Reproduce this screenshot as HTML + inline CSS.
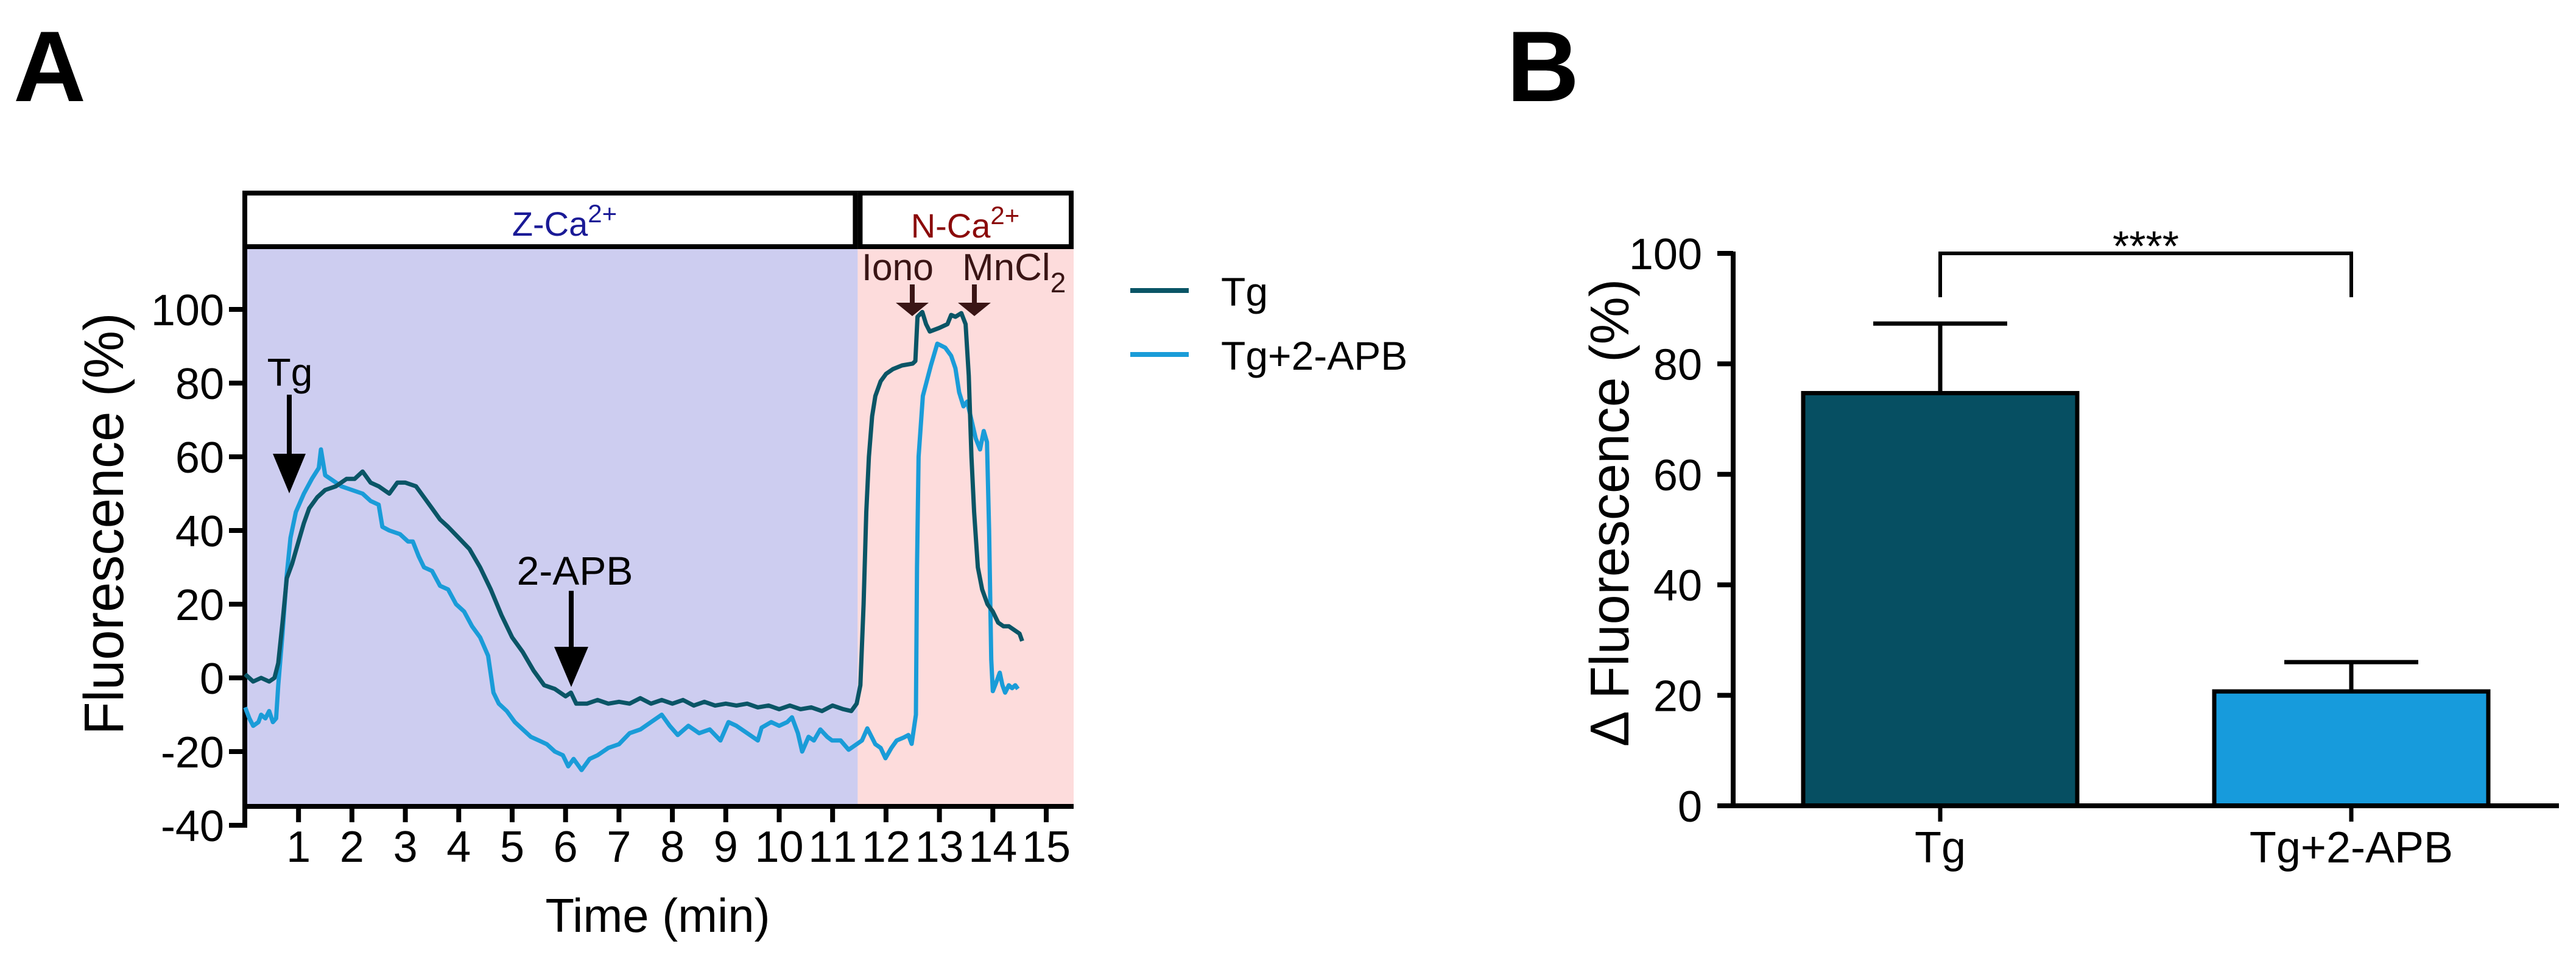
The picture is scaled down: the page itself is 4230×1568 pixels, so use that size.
<!DOCTYPE html>
<html><head><meta charset="utf-8"><style>
html,body{margin:0;padding:0;background:#fff;}
svg{display:block;font-family:"Liberation Sans",Arial,sans-serif;}
</style></head><body>
<svg id="fig" width="4230" height="1568" viewBox="0 0 4230 1568" xmlns="http://www.w3.org/2000/svg">
<rect x="0" y="0" width="4230" height="1568" fill="#fff"/>
<text x="22" y="166" font-size="165" font-weight="bold">A</text>
<text x="2474" y="166" font-size="165" font-weight="bold">B</text>
<g id="panelA"></g>
<g id="panelB"></g>
</svg>
<script>
// ---------- Panel A data ----------
const tgTimes = [0,0.15,0.3,0.45,0.55,0.62,0.7,0.78,0.88,1.0,1.1,1.2,1.35,1.5,1.7,1.9,2.05,2.2,2.35,2.5,2.7,2.85,3.0,3.2,3.35,3.5,3.65,3.8,4.0,4.2,4.4,4.6,4.8,5.0,5.2,5.4,5.6,5.8,6.0,6.1,6.2,6.4,6.6,6.8,7.0,7.2,7.4,7.6,7.8,8.0,8.2,8.4,8.6,8.8,9.0,9.2,9.4,9.6,9.8,10.0,10.2,10.4,10.6,10.8,11.0,11.2,11.35,11.45,11.52,11.58,11.63,11.68,11.74,11.8,11.9,12.0,12.13,12.3,12.5,12.55,12.59,12.68,12.75,12.82,13.0,13.15,13.22,13.3,13.41,13.49,13.55,13.6,13.65,13.72,13.8,13.9,14.0,14.1,14.2,14.3,14.4,14.5,14.55];
const tgValues = [1,-1,0,-1,0,4,15,27,31,37,42,46,49,51,52,54,54,56,53,52,50,53,53,52,49,46,43,41,38,35,30,24,17,11,7,2,-2,-3,-5,-4,-7,-7,-6,-7,-6.5,-7,-5.5,-7,-6,-7,-6,-7.5,-6.5,-7.5,-7,-7.5,-7,-8,-7.5,-8.5,-7.5,-8.5,-8,-9,-7.5,-8.5,-9,-7,-2,20,45,60,71,76.5,80.5,82.5,83.8,84.8,85.3,86,98,99.3,96,94,95,96,98.5,98,99,96,82,60,45,30,24,20,18,15,14,14,13,12,10];
const apbTimes = [0,0.08,0.15,0.25,0.3,0.38,0.45,0.52,0.58,0.62,0.7,0.78,0.85,0.95,1.1,1.25,1.38,1.42,1.5,1.6,1.8,2.0,2.2,2.35,2.5,2.57,2.7,2.9,3.05,3.14,3.25,3.35,3.5,3.65,3.8,3.95,4.1,4.25,4.4,4.55,4.65,4.75,4.9,5.05,5.2,5.35,5.5,5.65,5.8,5.95,6.05,6.15,6.3,6.45,6.6,6.8,7.0,7.2,7.4,7.6,7.8,7.95,8.1,8.3,8.5,8.7,8.9,9.05,9.2,9.4,9.6,9.67,9.85,10.0,10.15,10.24,10.35,10.43,10.55,10.65,10.77,10.9,10.99,11.15,11.3,11.45,11.55,11.65,11.8,11.9,11.99,12.1,12.2,12.33,12.42,12.48,12.56,12.58,12.61,12.69,12.84,12.96,13.11,13.22,13.3,13.37,13.45,13.52,13.6,13.68,13.76,13.83,13.89,13.93,13.97,14.0,14.07,14.13,14.18,14.23,14.3,14.36,14.42,14.47];
const apbValues = [-8,-11,-13,-12,-10,-11,-9,-12,-11,-2,12,28,38,45,50,54,57,62,55,54,52,51,50,48,47,41,40,39,37,37,33,30,29,25,24,20,18,14,11,6,-4,-7,-9,-12,-14,-16,-17,-18,-20,-21,-24,-22,-25,-22,-21,-19,-18,-15,-14,-12,-10,-13,-15.5,-13,-15,-14,-17,-12,-13,-15,-17,-13.5,-12,-13,-12,-10.7,-15,-20,-16,-17,-14,-16,-17,-17,-19.5,-18,-17,-13.7,-18,-19,-21.8,-19,-17,-16.2,-15.5,-17.9,-10,30,60,76.5,84.8,90.7,89.6,87.4,84,77.5,73.7,75,70,65,62,67,64,40,5,-3.6,-1,1.4,-2,-4,-2,-2.8,-2,-3];
const yTicksA = [100,80,60,40,20,0,-20,-40];
const xTicksA = [1,2,3,4,5,6,7,8,9,10,11,12,13,14,15];
const phaseBoundary = 11.47;

// ---------- Panel B data ----------
const groups = ["Tg","Tg+2-APB"];
const groupMeans = [74.7,20.7];
const groupErrors = [12.6,5.3];
const yTicksB = [0,20,40,60,80,100];
const sigLabel = "****";

const NS = "http://www.w3.org/2000/svg";
function mk(parent, tag, attrs, text){
  const e = document.createElementNS(NS, tag);
  for (const k in attrs) e.setAttribute(k, attrs[k]);
  if (text !== undefined) e.textContent = text;
  parent.appendChild(e);
  return e;
}

// ===== Panel A =====
const A = document.getElementById('panelA');
const xA = t => 402.5 + 87.7 * t;
const yA = v => 1113 - 6.05 * v;
const xRightA = 1763;
const plotTop = 409, plotBottom = 1320;

let r = mk(A,'rect',{x:402,y:plotTop,width:xA(phaseBoundary)-402,height:plotBottom-plotTop,fill:'#cdcdf0'});


r = mk(A,'rect',{x:xA(phaseBoundary),y:plotTop,width:xRightA-xA(phaseBoundary),height:plotBottom-plotTop,fill:'#fddcdc'});



r = mk(A,'rect',{x:402,y:317,width:xA(phaseBoundary)-4-402,height:88,fill:'#fff',stroke:'#000','stroke-width':8});


r = mk(A,'rect',{x:xA(phaseBoundary)+4,y:317,width:xRightA-4-xA(phaseBoundary)-4,height:88,fill:'#fff',stroke:'#000','stroke-width':8});


let t = mk(A,'text',{x:927,y:387,'font-size':56,'text-anchor':'middle',fill:'#1a1a96'});


t.innerHTML = 'Z-Ca<tspan dy="-22" font-size="42">2+</tspan>';
t = mk(A,'text',{x:1585,y:390,'font-size':56,'text-anchor':'middle',fill:'#8b0a0a'});


t.innerHTML = 'N-Ca<tspan dy="-22" font-size="42">2+</tspan>';

let ln = mk(A,'line',{x1:402,y1:313,x2:402,y2:1359,stroke:'#000','stroke-width':8});


ln = mk(A,'line',{x1:398,y1:1324,x2:xRightA,y2:1324,stroke:'#000','stroke-width':8});



yTicksA.forEach(v=>{
  const l = mk(A,'line',{x1:376,y1:yA(v),x2:402,y2:yA(v),stroke:'#000','stroke-width':8});
  
  
  const tx = mk(A,'text',{x:368,y:yA(v)+26,'font-size':72,'text-anchor':'end'}, String(v));
  
  
});
xTicksA.forEach(v=>{
  const l = mk(A,'line',{x1:xA(v),y1:1324,x2:xA(v),y2:1350,stroke:'#000','stroke-width':8});
  
  
  const tx = mk(A,'text',{x:xA(v),y:1415,'font-size':72,'text-anchor':'middle'}, String(v));
  if (v>=10) tx.setAttribute('textLength', 80);
  
  
});

t = mk(A,'text',{x:0,y:0,'font-size':92,'text-anchor':'middle',transform:'translate(202,860) rotate(-90)',textLength:693,lengthAdjust:'spacingAndGlyphs'},'Fluorescence (%)');


t = mk(A,'text',{x:1080,y:1530,'font-size':78,'text-anchor':'middle',textLength:369,lengthAdjust:'spacingAndGlyphs'},'Time (min)');



function path(times, vals){ return times.map((tt,i)=>(i?'L':'M')+xA(tt).toFixed(1)+','+yA(vals[i]).toFixed(1)).join(' '); }
let p = mk(A,'path',{d:path(apbTimes,apbValues),fill:'none',stroke:'#1a9cd8','stroke-width':7,'stroke-linejoin':'round'});


p = mk(A,'path',{d:path(tgTimes,tgValues),fill:'none',stroke:'#0a5566','stroke-width':7,'stroke-linejoin':'round'});



function arrow(x, y0, yHeadTop, yTip, halfW, color, name){
  const g = mk(A,'g',{});
  
  
  mk(g,'line',{x1:x,y1:y0,x2:x,y2:yHeadTop+2,stroke:color,'stroke-width':8});
  mk(g,'polygon',{points:`${x-halfW},${yHeadTop} ${x+halfW},${yHeadTop} ${x},${yTip}`,fill:color});
}
arrow(475,648,745,810,27,'#000','tg-arrow');
t = mk(A,'text',{x:476,y:633,'font-size':64,'text-anchor':'middle'},'Tg');


arrow(938,970,1062,1128,28,'#000','2apb-arrow');
t = mk(A,'text',{x:944,y:960,'font-size':66,'text-anchor':'middle'},'2-APB');


arrow(1498,467,497,519,27,'#3a1515','iono-arrow');
t = mk(A,'text',{x:1415,y:460,'font-size':62,fill:'#3a1515',textLength:118,lengthAdjust:'spacingAndGlyphs'},'Iono');


arrow(1600,467,497,519,27,'#3a1515','mncl2-arrow');
t = mk(A,'text',{x:1580,y:460,'font-size':62,fill:'#3a1515'});


t.innerHTML = 'MnCl<tspan dy="20" font-size="46">2</tspan>';

const legendItems = [['Tg','#0a5566',477,502],['Tg+2-APB','#1a9cd8',582,607]];
legendItems.forEach(it=>{
  const g = mk(A,'g',{});
  
  
  mk(g,'line',{x1:1856,y1:it[2],x2:1952,y2:it[2],stroke:it[1],'stroke-width':8});
  mk(g,'text',{x:2005,y:it[3],'font-size':66},it[0]);
});

// ===== Panel B =====
const B = document.getElementById('panelB');
const yB = v => 1323 - 9.07 * v;
const xCenters = [3186, 3861];
const barW = 450;

ln = mk(B,'line',{x1:2846,y1:yB(100)-3,x2:2846,y2:yB(0)+4,stroke:'#000','stroke-width':8});


yTicksB.forEach(v=>{
  const l = mk(B,'line',{x1:2820,y1:yB(v),x2:2846,y2:yB(v),stroke:'#000','stroke-width':8});
  
  
  const tx = mk(B,'text',{x:2795,y:yB(v)+26,'font-size':72,'text-anchor':'end'},String(v));
  
  
});
t = mk(B,'text',{x:0,y:0,'font-size':90,'text-anchor':'middle',transform:'translate(2674,842) rotate(-90)',textLength:768,lengthAdjust:'spacingAndGlyphs'},'Δ Fluorescence (%)');



const fills = ['#064f62','#179bdc'];
groups.forEach((g,i)=>{
  const cx = xCenters[i];
  const el = mk(B,'line',{x1:cx,y1:yB(groupMeans[i]),x2:cx,y2:yB(groupMeans[i]+groupErrors[i]),stroke:'#000','stroke-width':7});
  
  
  const cap = mk(B,'line',{x1:cx-110,y1:yB(groupMeans[i]+groupErrors[i]),x2:cx+110,y2:yB(groupMeans[i]+groupErrors[i]),stroke:'#000','stroke-width':7});
  
  
  const b = mk(B,'rect',{x:cx-barW/2,y:yB(groupMeans[i]),width:barW,height:yB(0)-yB(groupMeans[i]),fill:fills[i],stroke:'#000','stroke-width':7});
  
  
  const tk = mk(B,'line',{x1:cx,y1:yB(0),x2:cx,y2:yB(0)+26,stroke:'#000','stroke-width':7});
  
  
  const lb = mk(B,'text',{x:cx,y:1416,'font-size':72,'text-anchor':'middle'},g);
  
  
});
ln = mk(B,'line',{x1:2820,y1:yB(0),x2:4202,y2:yB(0),stroke:'#000','stroke-width':8});



p = mk(B,'path',{d:`M${xCenters[0]},488 L${xCenters[0]},${yB(100)} L${xCenters[1]},${yB(100)} L${xCenters[1]},488`,fill:'none',stroke:'#000','stroke-width':6});


t = mk(B,'text',{x:(xCenters[0]+xCenters[1])/2,y:428,'font-size':70,'text-anchor':'middle'},sigLabel);


</script>
</body></html>
